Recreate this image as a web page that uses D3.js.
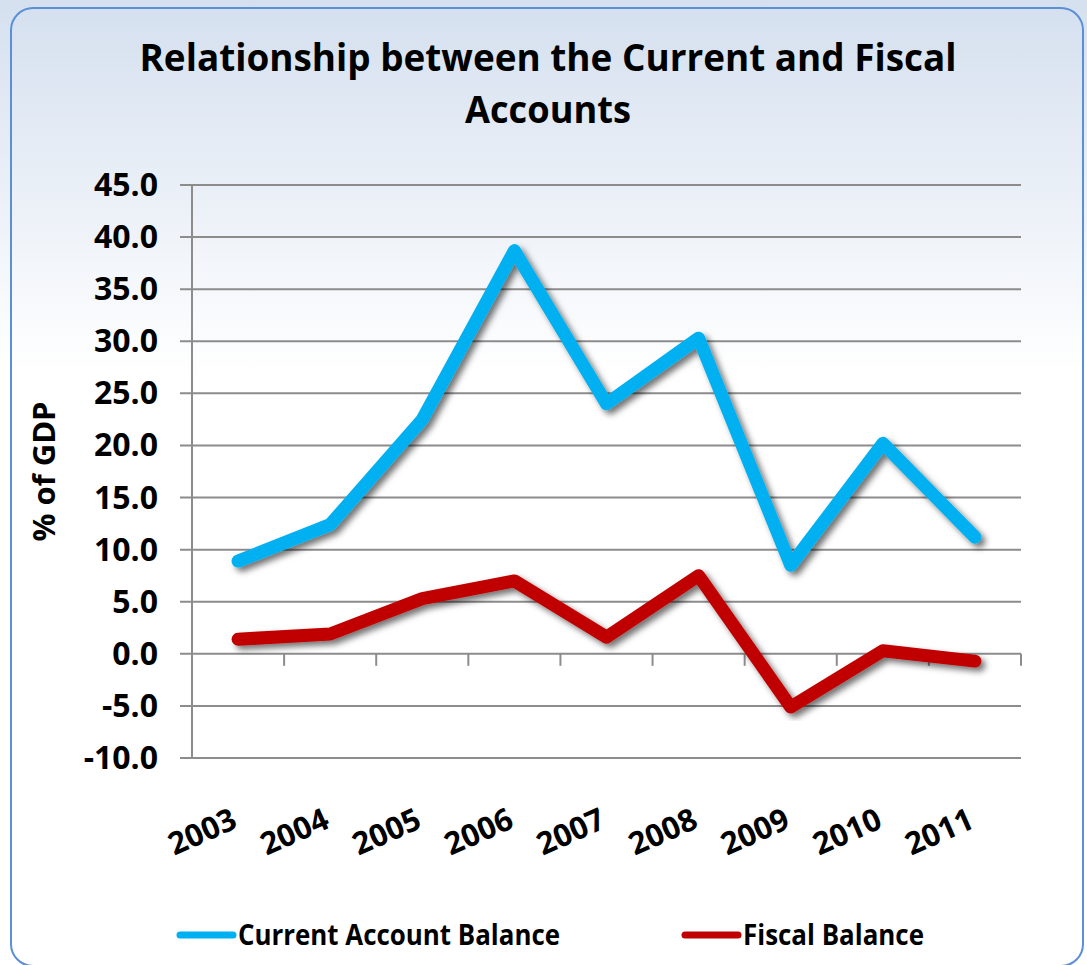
<!DOCTYPE html>
<html>
<head>
<meta charset="utf-8">
<script src="https://cdn.jsdelivr.net/npm/d3@7"></script>
<style>
  html, body { margin: 0; padding: 0; background: #fff; }
  svg { display: block; font-family: "Open Sans", Lato, sans-serif; }
</style>
</head>
<body>
<div id="chart"></div>
<script>
const years = ['2003', '2004', '2005', '2006', '2007', '2008', '2009', '2010', '2011'];
const currentAccount = [8.9, 12.4, 22.5, 38.7, 24.0, 30.3, 8.5, 20.2, 11.2];
const fiscalBalance = [1.4, 1.9, 5.3, 7.0, 1.6, 7.5, -5.1, 0.3, -0.7];
const yTicks = [-10, -5, 0, 5, 10, 15, 20, 25, 30, 35, 40, 45];
const seriesNames = ['Current Account Balance', 'Fiscal Balance'];
const seriesColors = ['#00b0f0', '#c00000'];

const width = 1087, height = 965;
const margin = { top: 185, right: 66, bottom: 207, left: 192 };

const svg = d3.select('#chart')
  .append('svg')
  .attr('width', width)
  .attr('height', height);

const defs = svg.append('defs');
const grad = defs.append('linearGradient')
  .attr('id', 'bg')
  .attr('x1', 0).attr('y1', 0).attr('x2', 0).attr('y2', 1);
grad.append('stop').attr('offset', '0%').attr('stop-color', '#d5e0ef');
grad.append('stop').attr('offset', '38%').attr('stop-color', '#ffffff');
grad.append('stop').attr('offset', '100%').attr('stop-color', '#ffffff');

const shadow = defs.append('filter')
  .attr('id', 'shadow')
  .attr('x', '-10%').attr('y', '-10%')
  .attr('width', '120%').attr('height', '120%');
shadow.append('feDropShadow')
  .attr('dx', 4).attr('dy', 4)
  .attr('stdDeviation', 3)
  .attr('flood-color', '#000')
  .attr('flood-opacity', 0.55);

svg.append('rect')
  .attr('width', width).attr('height', height)
  .attr('fill', 'url(#bg)');

svg.append('rect')
  .attr('x', 11).attr('y', 8)
  .attr('width', 1072).attr('height', 958)
  .attr('rx', 22)
  .attr('fill', 'url(#bg)')
  .attr('stroke', '#5b8fd6')
  .attr('stroke-width', 2);

// title
const titleLines = ['Relationship between the Current and Fiscal', 'Accounts'];
const titleLens = [817, 166];
svg.append('g')
  .selectAll('text')
  .data(titleLines)
  .join('text')
  .attr('x', 548)
  .attr('y', (d, i) => 71 + i * 52)
  .attr('text-anchor', 'middle')
  .attr('font-size', 38)
  .attr('font-weight', 'bold')
  .attr('textLength', (d, i) => titleLens[i])
  .attr('lengthAdjust', 'spacingAndGlyphs')
  .text(d => d);

const x = d3.scaleBand()
  .domain(years)
  .range([margin.left, width - margin.right]);

const y = d3.scaleLinear()
  .domain([-10, 45])
  .range([height - margin.bottom, margin.top]);

// gridlines
svg.append('g')
  .selectAll('line')
  .data(yTicks)
  .join('line')
  .attr('x1', margin.left - 12)
  .attr('x2', width - margin.right)
  .attr('y1', d => y(d))
  .attr('y2', d => y(d))
  .attr('stroke', '#8c8c8c')
  .attr('stroke-width', 2);

// y axis line
svg.append('line')
  .attr('x1', margin.left).attr('x2', margin.left)
  .attr('y1', y(45)).attr('y2', y(-10))
  .attr('stroke', '#8c8c8c')
  .attr('stroke-width', 2);

// y tick labels
svg.append('g')
  .selectAll('text')
  .data(yTicks)
  .join('text')
  .attr('x', 158)
  .attr('y', d => y(d) + 11)
  .attr('text-anchor', 'end')
  .attr('font-size', 32)
  .attr('font-weight', 'bold')
  .text(d => d3.format('.1f')(d).replace('\u2212', '-'));

// y axis title
svg.append('text')
  .attr('transform', `translate(55,${(y(45) + y(-10)) / 2}) rotate(-90)`)
  .attr('text-anchor', 'middle')
  .attr('font-size', 31)
  .attr('font-weight', 'bold')
  .text('% of GDP');

// category ticks on zero line
const bounds = years.map(d => x(d)).concat([x.range()[1]]);
svg.append('g')
  .selectAll('line')
  .data(bounds)
  .join('line')
  .attr('x1', d => d).attr('x2', d => d)
  .attr('y1', y(0)).attr('y2', y(0) + 12)
  .attr('stroke', '#8c8c8c')
  .attr('stroke-width', 2);

// x labels
svg.append('g')
  .selectAll('text')
  .data(years)
  .join('text')
  .attr('transform', d => `translate(${x(d) + x.bandwidth() / 2 + 1},${y(-10) + 69}) rotate(-24)`)
  .attr('text-anchor', 'end')
  .attr('font-size', 31)
  .attr('font-weight', 'bold')
  .text(d => d);

// lines
const line = d3.line()
  .x((d, i) => x(years[i]) + x.bandwidth() / 2)
  .y(d => y(d));

[currentAccount, fiscalBalance].forEach((vals, k) => {
  svg.append('path')
    .datum(vals)
    .attr('d', line)
    .attr('fill', 'none')
    .attr('stroke', seriesColors[k])
    .attr('stroke-width', 13)
    .attr('stroke-linecap', 'round')
    .attr('stroke-linejoin', 'round')
    .attr('filter', 'url(#shadow)');
});

// legend
const legendX = [178, 683];
const legendLens = [322, 181];
const lg = svg.append('g')
  .selectAll('g')
  .data(seriesNames)
  .join('g')
  .attr('transform', (d, i) => `translate(${legendX[i]},935)`);
lg.append('line')
  .attr('x1', 2).attr('x2', 55)
  .attr('stroke', (d, i) => seriesColors[i])
  .attr('stroke-width', 7)
  .attr('stroke-linecap', 'round');
lg.append('text')
  .attr('x', 60)
  .attr('y', 10)
  .attr('font-size', 28)
  .attr('font-weight', 'bold')
  .attr('textLength', (d, i) => legendLens[i])
  .attr('lengthAdjust', 'spacingAndGlyphs')
  .text(d => d);
</script>
</body>
</html>
